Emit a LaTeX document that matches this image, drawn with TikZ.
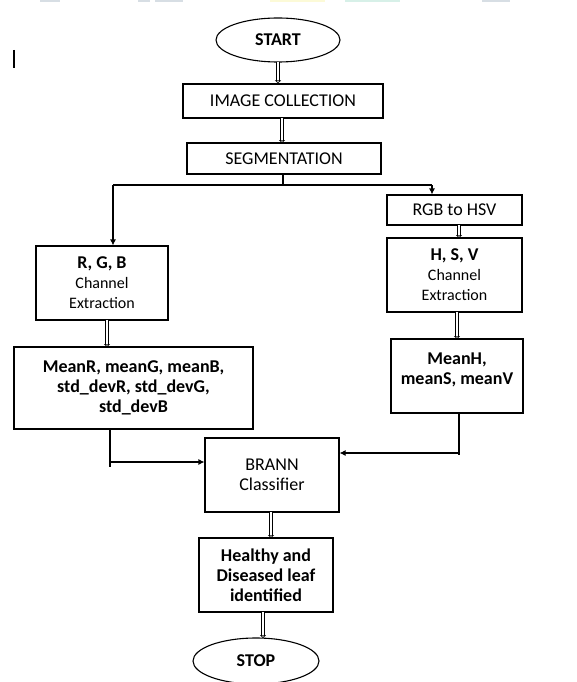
\documentclass[tikz,border=0pt]{standalone}
\usepackage{fontspec}
\setmainfont{Carlito}
\usetikzlibrary{arrows.meta,shapes.geometric,calc}
\definecolor{barg}{RGB}{215,222,228}
\definecolor{bary}{RGB}{252,250,215}
\definecolor{bargr}{RGB}{215,240,232}
\newcommand{\smtxt}[1]{{\fontsize{16}{20}\selectfont #1}}
\begin{document}
\begin{tikzpicture}[x=1pt,y=-1pt,
  every node/.style={font=\fontsize{18}{20}\selectfont, align=center, inner sep=0pt},
  box/.style={draw, line width=1.1pt, rectangle},
  term/.style={draw, line width=1.1pt, ellipse},
  dbl/.style={draw, line width=0.7pt, double, double distance=2.2pt, -{Triangle[open,length=3pt,width=6pt,line width=0.6pt]}},
  arr/.style={draw, line width=1.1pt, -{Latex[length=6pt,width=6pt]}},
  ln/.style={draw, line width=1.1pt}]
\useasboundingbox (0,0) rectangle (577,682);
\fill[white] (0,0) rectangle (577,682);
% faint header remnants
\fill[barg] (40,0) rectangle (60,2);
\fill[barg] (138,0) rectangle (150,2);
\fill[barg] (155,0) rectangle (183,2);
\fill[bary] (270,0) rectangle (325,2);
\fill[bargr] (345,0) rectangle (400,2);
\fill[barg] (482,0) rectangle (510,2);
% stray mark
\draw[line width=1.1pt] (14,50) -- (14,68);

% nodes
\node[term, minimum width=124pt, minimum height=44pt] (start) at (278,40) {\bfseries START};
\node[box, minimum width=200pt, minimum height=34pt] (img) at (283,101) {IMAGE COLLECTION};
\node[box, minimum width=194pt, minimum height=31pt] (seg) at (284,158.5) {SEGMENTATION};
\node[box, minimum width=135pt, minimum height=30pt] (rgbhsv) at (454.5,210) {RGB to HSV};
\node[box, minimum width=135pt, minimum height=74pt] (hsv) at (454.5,275) {\bfseries H, S, V\\\smtxt{Channel}\\\smtxt{Extraction}};
\node[box, minimum width=132pt, minimum height=74pt] (meanh) at (457,376) {};
\node (meanhtext) at (457,370) {\bfseries MeanH,\\\bfseries meanS, meanV};
\node[box, minimum width=132pt, minimum height=74pt] (rgbch) at (102,283) {\bfseries R, G, B\\\smtxt{Channel}\\\smtxt{Extraction}};
\node[box, minimum width=239pt, minimum height=82pt] (meanr) at (133.5,388) {\bfseries MeanR, meanG, meanB,\\\bfseries std\_devR, std\_devG,\\\bfseries std\_devB};
\node[box, minimum width=134pt, minimum height=74pt] (brann) at (272,475) {BRANN\\Classifier};
\node[box, minimum width=134pt, minimum height=74pt] (healthy) at (266,575) {\bfseries Healthy and\\\bfseries Diseased leaf\\\bfseries identified};
\node[term, minimum width=126pt, minimum height=46pt] (stop) at (256,661) {\bfseries STOP};

% junction coordinates
\coordinate (split) at (283,185);
\coordinate (lsplit) at (113,185);
\coordinate (rsplit) at (432,185);
\coordinate (ljoin) at (110,462);
\coordinate (rjoin) at (459,453);

% connectors
\draw[dbl] ($(start.south)+(0,-1)$) -- (start.south |- img.north);
\draw[dbl] (282,118) -- (282,143);
\draw[ln] (seg.south -| split) -- (split);
\draw[ln] (lsplit) -- (rsplit);
\draw[arr] (lsplit) -- (lsplit |- rgbch.north);
\draw[arr] (rsplit) -- (rsplit |- rgbhsv.north);
\draw[dbl] (459,225) -- (459,238);
\draw[dbl] (457,312) -- (457,339);
\draw[dbl] (107,320) -- (107,347);
\draw[ln] (ljoin |- meanr.south) -- (110,467);
\draw[arr] (ljoin) -- (ljoin -| brann.west);
\draw[ln] (rjoin |- meanh.south) -- (459,455);
\draw[arr] (rjoin) -- (rjoin -| brann.east);
\draw[dbl] (271,512) -- (271,538);
\draw[dbl] (263,612) -- (263,638);
\end{tikzpicture}
\end{document}
